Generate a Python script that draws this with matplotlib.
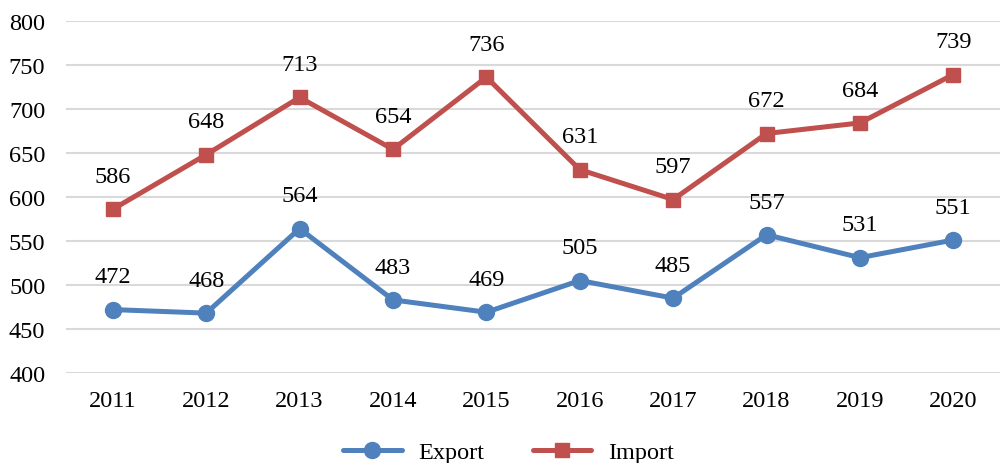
import matplotlib.pyplot as plt

years = ["2011", "2012", "2013", "2014", "2015", "2016", "2017", "2018", "2019", "2020"]
export = [472, 468, 564, 483, 469, 505, 485, 557, 531, 551]
imports = [586, 648, 713, 654, 736, 631, 597, 672, 684, 739]

plt.rcParams["font.family"] = ["Liberation Serif", "DejaVu Serif"]

fig = plt.figure(figsize=(10.02, 4.64), dpi=100)
ax = fig.add_axes([0.066, 0.194, 0.932, 0.759])

x = list(range(len(years)))
blue = "#4F81BD"
red = "#C0504D"
fs = 17.5

ax.plot(x, export, color=blue, lw=3.6, marker="o", ms=11.5, label="Export",
        solid_capstyle="round", zorder=3)
ax.plot(x, imports, color=red, lw=3.6, marker="s", ms=10, label="Import",
        solid_capstyle="round", zorder=3)

for xi, v in zip(x, export):
    ax.annotate(str(v), (xi, v), xytext=(0, 16), textcoords="offset points",
                ha="center", va="bottom", fontsize=fs)
for xi, v in zip(x, imports):
    ax.annotate(str(v), (xi, v), xytext=(0, 16), textcoords="offset points",
                ha="center", va="bottom", fontsize=fs)

ax.set_xlim(-0.5, 9.5)
ax.set_ylim(400, 800)
ax.set_yticks(range(400, 801, 50))
ax.set_xticks(x)
ax.set_xticklabels(years)
ax.tick_params(length=0, labelsize=fs)
ax.tick_params(axis="y", pad=15)
ax.tick_params(axis="x", pad=12)
ax.grid(axis="y", color="#D9D9D9", lw=1.5)
ax.set_axisbelow(True)
for s in ax.spines.values():
    s.set_visible(False)

ax.legend(loc="center", bbox_to_anchor=(0.474, -0.225), ncol=2, frameon=False,
          fontsize=fs, handlelength=2.4, handletextpad=0.7, columnspacing=2.0,
          borderpad=0)

fig.savefig("out.png", dpi=100)
